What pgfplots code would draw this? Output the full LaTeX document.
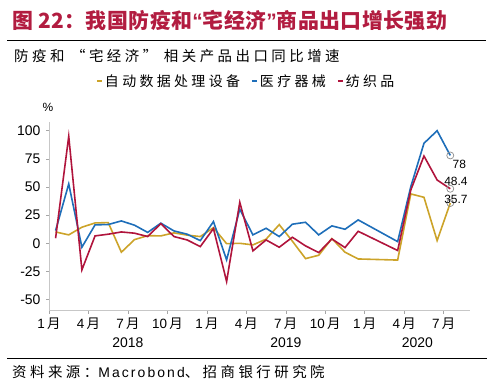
\documentclass[border=0pt]{standalone}
\usepackage{pgfplots}
\usepackage{pgfplotstable}
\pgfplotsset{compat=1.18}
\usepackage{fontspec}
\setmainfont{Liberation Sans}
\newfontfamily\cjk{Noto Sans CJK SC}
\newfontfamily\cjksp[LetterSpace=24]{Noto Sans CJK SC}
\newfontfamily\cjkt[LetterSpace=2]{Noto Sans CJK SC}
\newfontfamily\latsp[LetterSpace=15]{Liberation Sans}
\definecolor{cgold}{RGB}{204,163,41}
\definecolor{cblue}{RGB}{30,110,185}
\definecolor{cred}{RGB}{176,20,60}
\definecolor{ctitle}{RGB}{178,28,64}

% x = month index (Jan 2018 = 0) + 0.5
\pgfplotstableread{
x y
0.5 10
1.5 7.4
2.5 14.2
3.5 18
4.5 18.3
5.5 -8
6.5 3.2
7.5 6.7
8.5 6.5
9.5 9.2
10.5 7.2
11.5 5.9
12.5 13.8
13.5 -0.4
14.5 -0.1
15.5 -1.5
16.5 3.6
17.5 16.5
18.5 1.8
19.5 -13.7
20.5 -10.7
21.5 4.1
22.5 -8
23.5 -14
26.5 -15
27.5 43.8
28.5 40.8
29.5 2.3
30.5 35.7
}\gold

\pgfplotstableread{
x y
0.5 11.2
1.5 52.7
2.5 -3.6
3.5 16.3
4.5 16.6
5.5 19.8
6.5 16
7.5 9.6
8.5 17.8
9.5 10.9
10.5 8
11.5 2.3
12.5 19.2
13.5 -14.8
14.5 30.2
15.5 7.4
16.5 13.3
17.5 5.9
18.5 16.9
19.5 18.6
20.5 7.4
21.5 15.4
22.5 12.4
23.5 20.7
26.5 1.4
27.5 50.3
28.5 88.8
29.5 100
30.5 78
}\blue

\pgfplotstableread{
x y
0.5 4.4
1.5 95
2.5 -23.7
3.5 6.5
4.5 8
5.5 10
6.5 8.9
7.5 5.9
8.5 17.4
9.5 5.9
10.5 2.9
11.5 -3
12.5 13
13.5 -34
14.5 36.4
15.5 -6.8
16.5 2.9
17.5 -3.6
18.5 5.3
19.5 -2.4
20.5 -8.3
21.5 3.8
22.5 -3.9
23.5 10.6
26.5 -6.5
27.5 47.3
28.5 77.5
29.5 56.2
30.5 48.4
}\red

\begin{document}
\begin{tikzpicture}[x=1bp,y=1bp]
\begin{axis}[
  at={(49bp,77.3bp)}, anchor=south west,
  scale only axis, width=421bp, height=189bp,
  xmin=0, xmax=32, ymin=-60, ymax=108,
  axis lines=left,
  axis line style={-, draw=black!22, line width=0.7bp},
  tick style={draw=black!35, line width=0.6bp},
  major tick length=3bp, tick align=outside,
  xtick={0,3,...,30},
  xticklabels={1\,{\cjk 月},4\,{\cjk 月},7\,{\cjk 月},10\,{\cjk 月},1\,{\cjk 月},4\,{\cjk 月},7\,{\cjk 月},10\,{\cjk 月},1\,{\cjk 月},4\,{\cjk 月},7\,{\cjk 月}},
  xticklabel style={font=\fontsize{13.5}{15}\selectfont, yshift=-1bp},
  ytick={-50,-25,...,100},
  yticklabel style={font=\fontsize{14}{16}\selectfont, xshift=-2bp},
  /pgf/number format/assume math mode=true,
  legend style={at={(0.1116,1.2153)}, anchor=west, draw=none, fill=none,
    inner sep=0pt, outer sep=0pt, legend columns=-1,
    font=\cjksp\fontsize{14}{16}\selectfont,
    /tikz/every even column/.append style={column sep=9bp}},
  legend image code/.code={\draw[#1, line width=2bp] (0bp,0bp) -- (5bp,0bp);},
  clip=false,
]
\addplot[cgold, line width=1.6bp] table[x=x,y=y] {\gold};
\addlegendentry{自动数据处理设备}
\addplot[cblue, line width=1.6bp] table[x=x,y=y] {\blue};
\addlegendentry{医疗器械}
\addplot[cred, line width=1.6bp] table[x=x,y=y] {\red};
\addlegendentry{纺织品}

\addplot[forget plot, only marks, mark=o, mark size=3.5bp, mark options={draw=black!45, line width=0.7bp},
  nodes near coords, point meta=explicit symbolic,
  every node near coord/.append style={font=\fontsize{12}{14}\selectfont, text=black, anchor=center, xshift=9bp, yshift=-8.5bp}]
  coordinates {(30.5,78) [78]};
\addplot[forget plot, only marks, mark=o, mark size=3.5bp, mark options={draw=black!45, line width=0.7bp},
  nodes near coords, point meta=explicit symbolic,
  every node near coord/.append style={font=\fontsize{12}{14}\selectfont, text=black, anchor=center, xshift=5.7bp, yshift=7.8bp}]
  coordinates {(30.5,48.4) [48.4]};
\addplot[forget plot, only marks, mark=o, mark size=3.5bp, mark options={draw=black!45, line width=0.7bp},
  nodes near coords, point meta=explicit symbolic,
  every node near coord/.append style={font=\fontsize{12}{14}\selectfont, text=black, anchor=center, xshift=5.7bp, yshift=4.1bp}]
  coordinates {(30.5,35.7) [35.7]};
\end{axis}

% title and rules
\node[anchor=west, inner sep=0pt, text=ctitle] at (12,368)
  {\cjkt\bfseries\fontsize{21}{24}\selectfont 图 22：我国防疫和{\rmfamily\bfseries “}宅经济{\rmfamily\bfseries ”}商品出口增长强劲};
\draw[line width=0.9bp] (7,348) -- (486,348);
\node[anchor=west, inner sep=0pt] at (14,332)
  {\cjksp\fontsize{14.5}{17}\selectfont 防疫和 “宅经济” 相关产品出口同比增速};
\node[inner sep=0pt] at (48,281) {\fontsize{12}{14}\selectfont \%};
% year labels
\node[inner sep=0pt] at (127.9,45.3) {\fontsize{14}{16}\selectfont 2018};
\node[inner sep=0pt] at (285.8,45.3) {\fontsize{14}{16}\selectfont 2019};
\node[inner sep=0pt] at (417.4,45.3) {\fontsize{14}{16}\selectfont 2020};
\draw[line width=0.9bp] (7,29.7) -- (487,29.7);
\node[anchor=west, inner sep=0pt] at (12,16)
  {\cjksp\fontsize{14.5}{17}\selectfont 资料来源：{\latsp\fontsize{14}{17}\selectfont Macrobond}、招商银行研究院};
\pgfresetboundingbox
\path[use as bounding box] (0,0) rectangle (492,388);
\end{tikzpicture}
\end{document}
